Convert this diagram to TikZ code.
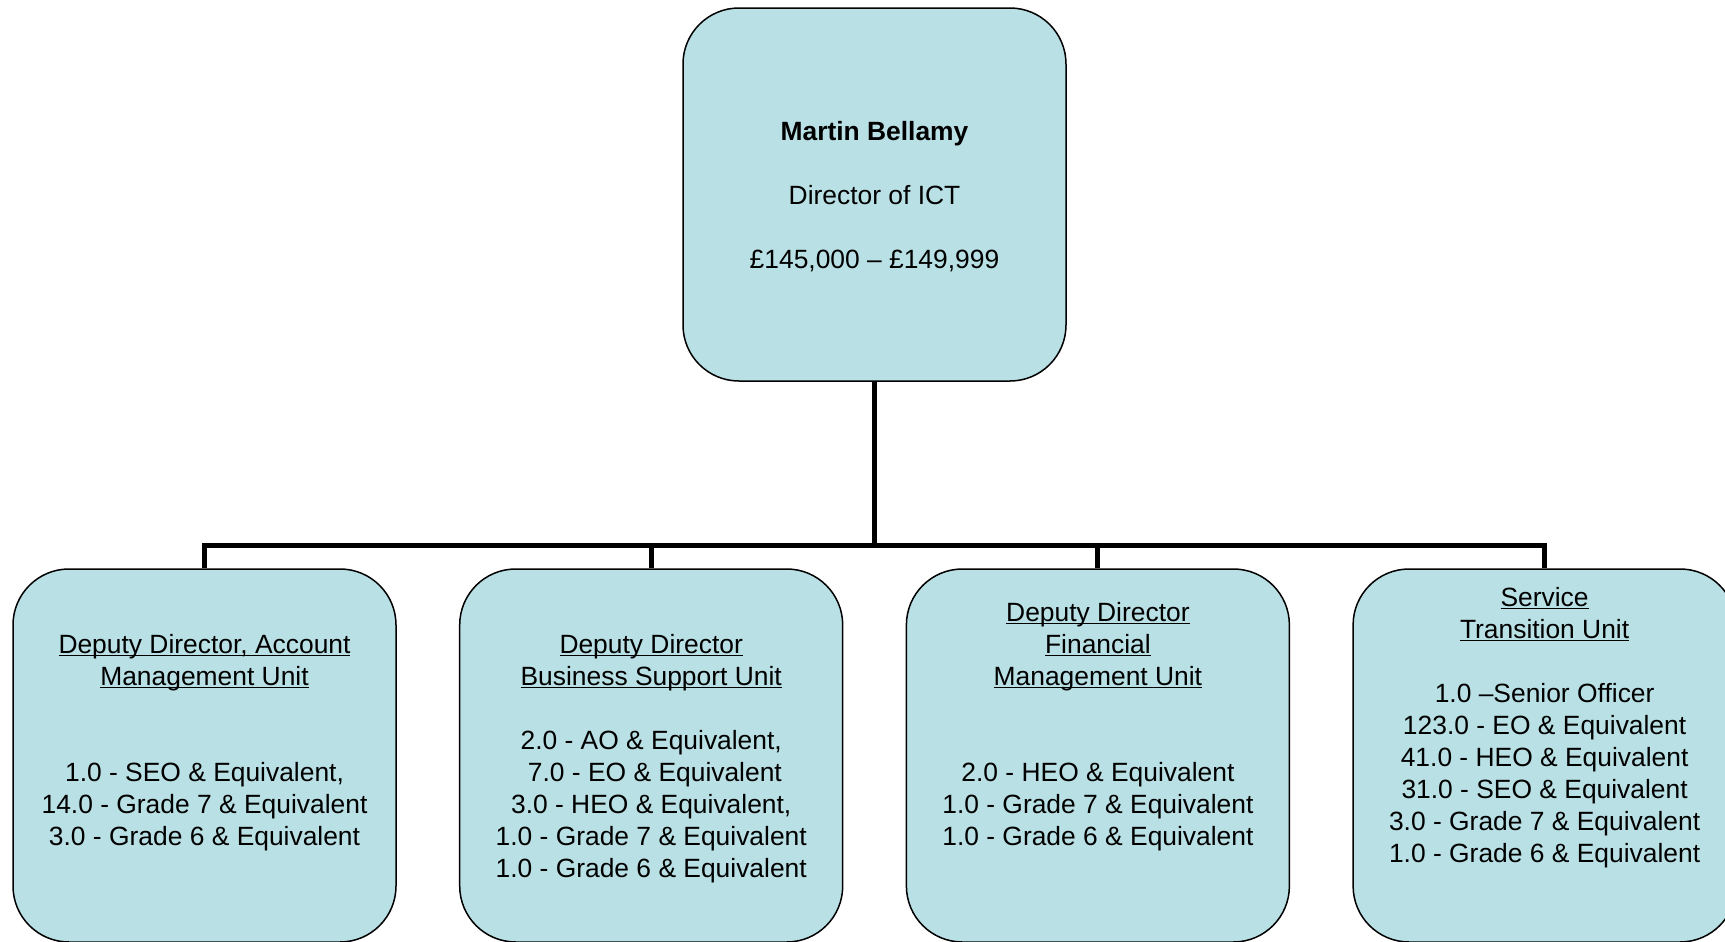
\documentclass[tikz,border=0pt]{standalone}
\usepackage{fontspec}
\setmainfont{Liberation Sans}
\usetikzlibrary{positioning, calc}
\definecolor{unitfill}{RGB}{185,224,228}
\newcommand{\unitul}[1]{\setbox0=\hbox{#1}\rlap{\vrule height -0.8pt depth 1.6pt width \wd0}\box0}
\tikzset{
    unitbox/.style={draw, line width=0.75pt, fill=unitfill, rounded corners=28pt, minimum width=191.5pt, minimum height=186.5pt, inner sep=0pt}, % the rounded boxes
    unittext/.style={align=center, anchor=base, inner sep=0pt, font=\fontsize{13.2pt}{16pt}\selectfont}, % the text inside a box (base = last line)
    branch/.style={line width=2.5pt}, % the lines between the boxes
}

\begin{document}
\begin{tikzpicture}[x=0.5pt, y=-0.5pt]
    \useasboundingbox (0,0) rectangle (1725,942);
    \node[unitbox] (dir) at (874.5,194.5) {};
    \node[unitbox] (acct) at (204.5,755.5) {};
    \node[unitbox, right=31.1pt of acct] (busi) {};
    \node[unitbox, right=31.1pt of busi] (fin) {};
    \node[unitbox, right=31.1pt of fin] (trans) {};
    \coordinate (bus) at (874.5,545);
    \draw[branch] (dir.south) -- (bus);
    \foreach \u in {acct, busi, fin, trans}
        \draw[branch] (bus) -| (\u.north);
    \node[unittext] (dirTxt) at ($(dir.north)+(0,261)$) {\textbf{Martin Bellamy}\\[16pt] Director of ICT\\[16pt] £145,000 – £149,999};
    \node[unittext] (acctTxt) at ($(acct.north)+(0,277)$) {\unitul{Deputy Director, Account}\\ \unitul{Management Unit}\\[32pt] 1.0 - SEO \& Equivalent,\\ 14.0 - Grade 7 \& Equivalent\\ 3.0 - Grade 6 \& Equivalent};
    \node[unittext] (busiTxt) at ($(busi.north)+(0,309)$) {\unitul{Deputy Director}\\ \unitul{Business Support Unit}\\[16pt] 2.0 - AO \& Equivalent,\\ \hspace*{0.28em}7.0 - EO \& Equivalent\\ 3.0 - HEO \& Equivalent,\\ 1.0 - Grade 7 \& Equivalent\\ 1.0 - Grade 6 \& Equivalent};
    \node[unittext] (finTxt) at ($(fin.north)+(0,277)$) {\unitul{Deputy Director}\\ \unitul{Financial}\\ \unitul{Management Unit}\\[32pt] 2.0 - HEO \& Equivalent\\ 1.0 - Grade 7 \& Equivalent\\ 1.0 - Grade 6 \& Equivalent};
    \node[unittext] (transTxt) at ($(trans.north)+(0,294)$) {\unitul{Service}\\ \unitul{Transition Unit}\\[16pt] 1.0 –Senior Officer\\ 123.0 - EO \& Equivalent\\ 41.0 - HEO \& Equivalent\\ 31.0 - SEO \& Equivalent\\ 3.0 - Grade 7 \& Equivalent\\ 1.0 - Grade 6 \& Equivalent};
\end{tikzpicture}
\end{document}
